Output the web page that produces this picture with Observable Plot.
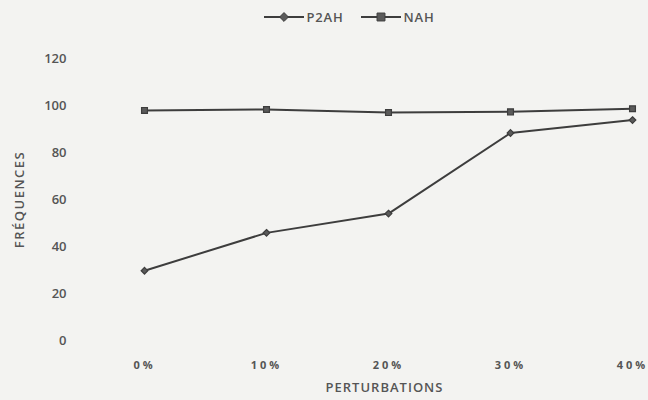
<!DOCTYPE html>
<html>
<head>
<meta charset="utf-8">
<script src="https://cdn.jsdelivr.net/npm/d3@7"></script>
<script src="https://cdn.jsdelivr.net/npm/@observablehq/plot@0.6"></script>
<style>
  html, body { margin: 0; padding: 0; background: #f3f3f1; }
  #wrap { width: 648px; height: 400px; font-family: "Open Sans", Lato, sans-serif; }
  #legend { height: 34px; display: flex; justify-content: center; align-items: center; gap: 17px; padding-left: 50px; box-sizing: border-box; color: #555; font-size: 13px; font-weight: 600; letter-spacing: 0.8px; }
  #legend .item { display: flex; align-items: center; gap: 3px; }
  #legend svg { display: block; }
</style>
</head>
<body>
<div id="wrap">
  <div id="legend"></div>
  <div id="chart"></div>
</div>
<script>
// Perturbation levels on the x axis
const perturbations = ["0%", "10%", "20%", "30%", "40%"];
// Series
const seriesNames = ["P2AH", "NAH"];
const p2ahValues = [29.7, 45.8, 54, 88.3, 93.8];
const nahValues = [97.9, 98.3, 97, 97.3, 98.6];
// Axis ticks
const yTicks = [0, 20, 40, 60, 80, 100, 120];

const symbols = { P2AH: "diamond2", NAH: "square" };
const sizes = { P2AH: 4.6, NAH: 5.6 };

const rows = [
  ...perturbations.map((p, i) => ({ p, v: p2ahValues[i], s: "P2AH" })),
  ...perturbations.map((p, i) => ({ p, v: nahValues[i], s: "NAH" }))
];

const lineColor = "#3d3d3d";
const markFill = "#5a5a5a";
const textColor = "#555";

// Legend above the chart
const legend = d3.select("#legend");
for (const name of seriesNames) {
  const item = legend.append("div").attr("class", "item");
  const svg = item.append("svg").attr("width", 40).attr("height", 14);
  svg.append("line").attr("x1", 0).attr("x2", 40).attr("y1", 7).attr("y2", 7)
    .attr("stroke", lineColor).attr("stroke-width", 2);
  const sym = d3.symbol(name === "P2AH" ? d3.symbolDiamond2 : d3.symbolSquare2, name === "P2AH" ? 50 : 80)();
  svg.append("path").attr("d", sym).attr("transform", "translate(20,7)")
    .attr("fill", markFill).attr("stroke", lineColor).attr("stroke-width", 1);
  item.append("span").text(name);
}

const chart = Plot.plot({
  width: 648,
  height: 366,
  marginLeft: 70,
  marginRight: 16,
  marginTop: 24,
  marginBottom: 60,
  style: { background: "transparent", fontFamily: "\"Open Sans\", Lato, sans-serif", color: textColor },
  x: { type: "point", domain: perturbations, range: [144, 632], padding: 0 },
  y: { domain: [0, 120] },
  marks: [
    Plot.axisY({ ticks: yTicks, tickSize: 0, tickPadding: 4, label: "FRÉQUENCES", labelAnchor: "center", labelArrow: "none", labelOffset: 56, fontSize: 13, fontWeight: 600, fill: textColor }),
    Plot.axisX({ tickSize: 0, tickPadding: 21, label: null, fontSize: 11, fontWeight: 700, fill: textColor }),
    Plot.text(["PERTURBATIONS"], { frameAnchor: "bottom", dx: 33, dy: 51, fontSize: 13, fontWeight: 600, fill: textColor }),
    Plot.line(rows, { x: "p", y: "v", z: "s", stroke: lineColor, strokeWidth: 2 }),
    Plot.dot(rows, { x: "p", y: "v", symbol: d => symbols[d.s], r: d => sizes[d.s], fill: markFill, stroke: lineColor, strokeWidth: 1.2 })
  ]
});
// Spaced-out percentage labels and wider axis titles
d3.select(chart).selectAll("[aria-label='x-axis tick label'] text").style("letter-spacing", "3px");
d3.select(chart).selectAll("[aria-label='y-axis label'] text").style("letter-spacing", "1.5px");
d3.select(chart).selectAll("[aria-label='text'] text").style("letter-spacing", "1px");
document.getElementById("chart").append(chart);
</script>
</body>
</html>
